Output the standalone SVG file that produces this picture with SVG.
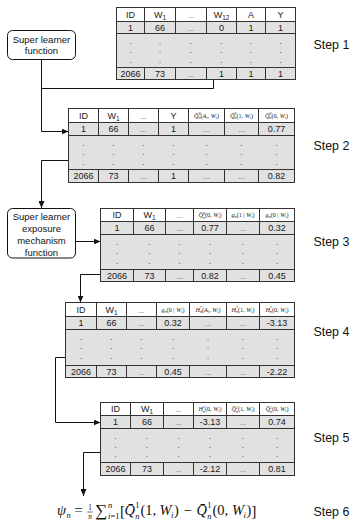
<svg xmlns="http://www.w3.org/2000/svg" width="351" height="520" viewBox="0 0 351 520">
<defs>
<marker id="ah" markerWidth="7" markerHeight="6" refX="7" refY="3" orient="auto" markerUnits="userSpaceOnUse"><path d="M0,0 L7,3 L0,6 z" fill="#111"/></marker>
<style>
.hd{fill:#fff;stroke:#333;stroke-width:1}
.gr{fill:#e1e1e1;stroke:#333;stroke-width:1}
.gl{fill:none;stroke:#333;stroke-width:1}
.t{font-family:"Liberation Sans",Arial,sans-serif;font-size:9px;text-anchor:middle;fill:#1a1a1a}
.e{font-family:"Liberation Sans",Arial,sans-serif;font-size:8px;text-anchor:middle;fill:#666}
.d{font-family:"Liberation Sans",Arial,sans-serif;font-size:9px;text-anchor:middle;fill:#555}
.m{font-family:"Liberation Serif","Times New Roman",serif;font-size:6.2px;font-style:italic;text-anchor:middle;fill:#1a1a1a}
.s{font-size:4.2px}
.u{font-style:normal}
.sb{font-size:6.5px}
.box{fill:#fff;stroke:#111;stroke-width:1}
.bt{font-family:"Liberation Sans",Arial,sans-serif;font-size:9.5px;text-anchor:middle;fill:#111}
.step{font-family:"Liberation Sans",Arial,sans-serif;font-size:12.4px;fill:#111}
.c{fill:none;stroke:#111;stroke-width:1}
.f{font-family:"Liberation Serif","Times New Roman",serif;font-size:14.5px;fill:#111}
.fi{font-style:italic}
.fs{font-size:8.5px}
.fr{font-size:7.2px;text-anchor:middle}
</style>
</defs>

<g id="connectors">
<path class="c" d="M41.5,59.5V131.5H68.5" marker-end="url(#ah)"/>
<path class="c" d="M213.5,79.5V88.5H41.5"/>
<path class="c" d="M68.5,160.5H41.5V208" marker-end="url(#ah)"/>
<path class="c" d="M76,241.5H100.5" marker-end="url(#ah)"/>
<path class="c" d="M100.5,274.5H80.5V302.5" marker-end="url(#ah)"/>
<path class="c" d="M65.5,357.5H55.5V422.5H100.5" marker-end="url(#ah)"/>
<path class="c" d="M100.5,452.5H83.5V496" marker-end="url(#ah)"/>
</g>

<g id="sl1">
<rect class="box" x="7.5" y="30.5" width="68" height="29" rx="5"/>
<text class="bt" x="41.5" y="42.5">Super learner</text>
<text class="bt" x="41.5" y="54">function</text>
</g>

<g id="sl2">
<rect class="box" x="7.5" y="208.5" width="68" height="49.5" rx="5"/>
<text class="bt" x="41.5" y="220.4">Super learner</text>
<text class="bt" x="41.5" y="232.2">exposure</text>
<text class="bt" x="41.5" y="244">mechanism</text>
<text class="bt" x="41.5" y="255.5">function</text>
</g>

<g id="table1">
<rect class="hd" x="116.5" y="7.5" width="179" height="14"/>
<rect class="gr" x="116.5" y="21.5" width="179" height="12"/>
<rect class="gr" x="116.5" y="33.5" width="179" height="34"/>
<rect class="gr" x="116.5" y="67.5" width="179" height="12"/>
<path class="gl" d="M144.5,7.5V33.5M175.5,7.5V33.5M206.5,7.5V33.5M236.5,7.5V33.5M265.5,7.5V33.5M144.5,67.5V79.5M175.5,67.5V79.5M206.5,67.5V79.5M236.5,67.5V79.5M265.5,67.5V79.5"/>
<text class="t" x="130.5" y="17.7">ID</text>
<text class="t" x="160" y="17.7">W<tspan class="sb" dy="1.8">1</tspan></text>
<text class="e" x="191" y="17.7">...</text>
<text class="t" x="221.5" y="17.7">W<tspan class="sb" dy="1.8">12</tspan></text>
<text class="t" x="251" y="17.7">A</text>
<text class="t" x="280.5" y="17.7">Y</text>
<text class="t" x="130.5" y="30.7">1</text>
<text class="t" x="160" y="30.7">66</text>
<text class="e" x="191" y="30.7">...</text>
<text class="t" x="221.5" y="30.7">0</text>
<text class="t" x="251" y="30.7">1</text>
<text class="t" x="280.5" y="30.7">1</text>
<text class="d" x="130.5 160 191 221.5 251 280.5" y="43.5">......</text>
<text class="d" x="130.5 160 191 221.5 251 280.5" y="52.5">......</text>
<text class="d" x="130.5 160 191 221.5 251 280.5" y="62.5">......</text>
<text class="t" x="130.5" y="76.7">2066</text>
<text class="t" x="160" y="76.7">73</text>
<text class="e" x="191" y="76.7">...</text>
<text class="t" x="221.5" y="76.7">1</text>
<text class="t" x="251" y="76.7">1</text>
<text class="t" x="280.5" y="76.7">1</text>
</g>

<g id="table2">
<rect class="hd" x="68.5" y="108.5" width="226" height="14"/>
<rect class="gr" x="68.5" y="122.5" width="226" height="13"/>
<rect class="gr" x="68.5" y="135.5" width="226" height="34"/>
<rect class="gr" x="68.5" y="169.5" width="226" height="13"/>
<path class="gl" d="M98.5,108.5V135.5M128.5,108.5V135.5M158.5,108.5V135.5M188.5,108.5V135.5M224.5,108.5V135.5M258.5,108.5V135.5M98.5,169.5V182.5M128.5,169.5V182.5M158.5,169.5V182.5M188.5,169.5V182.5M224.5,169.5V182.5M258.5,169.5V182.5"/>
<text class="t" x="83.5" y="118.7">ID</text>
<text class="t" x="113.5" y="118.7">W<tspan class="sb" dy="1.8">1</tspan></text>
<text class="e" x="143.5" y="118.7">...</text>
<text class="t" x="173.5" y="118.7">Y</text>
<text class="m" x="206.5" y="117.6">Q̄<tspan class="s" dy="-2.3">0</tspan><tspan class="s" dx="-2.1" dy="3.9">n</tspan><tspan class="u" dy="-1.6">(</tspan>A<tspan class="s" dy="1.3">i</tspan><tspan class="u" dy="-1.3">, </tspan>W<tspan class="s" dy="1.3">i</tspan><tspan class="u" dy="-1.3">)</tspan></text>
<text class="m" x="241.5" y="117.6">Q̄<tspan class="s" dy="-2.3">0</tspan><tspan class="s" dx="-2.1" dy="3.9">n</tspan><tspan class="u" dy="-1.6">(1, </tspan>W<tspan class="s" dy="1.3">i</tspan><tspan class="u" dy="-1.3">)</tspan></text>
<text class="m" x="276.5" y="117.6">Q̄<tspan class="s" dy="-2.3">0</tspan><tspan class="s" dx="-2.1" dy="3.9">n</tspan><tspan class="u" dy="-1.6">(0, </tspan>W<tspan class="s" dy="1.3">i</tspan><tspan class="u" dy="-1.3">)</tspan></text>
<text class="t" x="83.5" y="132.2">1</text>
<text class="t" x="113.5" y="132.2">66</text>
<text class="e" x="143.5" y="132.2">...</text>
<text class="t" x="173.5" y="132.2">1</text>
<text class="e" x="206.5" y="132.2">...</text>
<text class="e" x="241.5" y="132.2">...</text>
<text class="t" x="276.5" y="132.2">0.77</text>
<text class="d" x="83.5 113.5 143.5 173.5 206.5 241.5 276.5" y="145.5">.......</text>
<text class="d" x="83.5 113.5 143.5 173.5 206.5 241.5 276.5" y="154.5">.......</text>
<text class="d" x="83.5 113.5 143.5 173.5 206.5 241.5 276.5" y="164.5">.......</text>
<text class="t" x="83.5" y="179.2">2066</text>
<text class="t" x="113.5" y="179.2">73</text>
<text class="e" x="143.5" y="179.2">...</text>
<text class="t" x="173.5" y="179.2">1</text>
<text class="e" x="206.5" y="179.2">...</text>
<text class="e" x="241.5" y="179.2">...</text>
<text class="t" x="276.5" y="179.2">0.82</text>
</g>

<g id="table3">
<rect class="hd" x="100.5" y="208.5" width="194" height="13"/>
<rect class="gr" x="100.5" y="221.5" width="194" height="13"/>
<rect class="gr" x="100.5" y="234.5" width="194" height="35"/>
<rect class="gr" x="100.5" y="269.5" width="194" height="12"/>
<path class="gl" d="M133.5,208.5V234.5M165.5,208.5V234.5M193.5,208.5V234.5M226.5,208.5V234.5M259.5,208.5V234.5M133.5,269.5V281.5M165.5,269.5V281.5M193.5,269.5V281.5M226.5,269.5V281.5M259.5,269.5V281.5"/>
<text class="t" x="117" y="218.2">ID</text>
<text class="t" x="149.5" y="218.2">W<tspan class="sb" dy="1.8">1</tspan></text>
<text class="e" x="179.5" y="218.2">...</text>
<text class="m" x="210" y="217.1">Q̄<tspan class="s" dy="-2.3">0</tspan><tspan class="s" dx="-2.1" dy="3.9">n</tspan><tspan class="u" dy="-1.6">(0, </tspan>W<tspan class="s" dy="1.3">i</tspan><tspan class="u" dy="-1.3">)</tspan></text>
<text class="m" x="243" y="217.1">g<tspan class="s" dy="1.3">n</tspan><tspan class="u" dy="-1.3">(1 | </tspan>W<tspan class="s" dy="1.3">i</tspan><tspan class="u" dy="-1.3">)</tspan></text>
<text class="m" x="277" y="217.1">g<tspan class="s" dy="1.3">n</tspan><tspan class="u" dy="-1.3">(0 | </tspan>W<tspan class="s" dy="1.3">i</tspan><tspan class="u" dy="-1.3">)</tspan></text>
<text class="t" x="117" y="231.2">1</text>
<text class="t" x="149.5" y="231.2">66</text>
<text class="e" x="179.5" y="231.2">...</text>
<text class="t" x="210" y="231.2">0.77</text>
<text class="e" x="243" y="231.2">...</text>
<text class="t" x="277" y="231.2">0.32</text>
<text class="d" x="117 149.5 179.5 210 243 277" y="244.5">......</text>
<text class="d" x="117 149.5 179.5 210 243 277" y="253.5">......</text>
<text class="d" x="117 149.5 179.5 210 243 277" y="263.5">......</text>
<text class="t" x="117" y="278.7">2066</text>
<text class="t" x="149.5" y="278.7">73</text>
<text class="e" x="179.5" y="278.7">...</text>
<text class="t" x="210" y="278.7">0.82</text>
<text class="e" x="243" y="278.7">...</text>
<text class="t" x="277" y="278.7">0.45</text>
</g>

<g id="table4">
<rect class="hd" x="65.5" y="302.5" width="229" height="14"/>
<rect class="gr" x="65.5" y="316.5" width="229" height="13"/>
<rect class="gr" x="65.5" y="329.5" width="229" height="36"/>
<rect class="gr" x="65.5" y="365.5" width="229" height="12"/>
<path class="gl" d="M96.5,302.5V329.5M126.5,302.5V329.5M156.5,302.5V329.5M189.5,302.5V329.5M226.5,302.5V329.5M259.5,302.5V329.5M96.5,365.5V377.5M126.5,365.5V377.5M156.5,365.5V377.5M189.5,365.5V377.5M226.5,365.5V377.5M259.5,365.5V377.5"/>
<text class="t" x="81" y="312.7">ID</text>
<text class="t" x="111.5" y="312.7">W<tspan class="sb" dy="1.8">1</tspan></text>
<text class="e" x="141.5" y="312.7">...</text>
<text class="m" x="173" y="311.6">g<tspan class="s" dy="1.3">n</tspan><tspan class="u" dy="-1.3">(0 | </tspan>W<tspan class="s" dy="1.3">i</tspan><tspan class="u" dy="-1.3">)</tspan></text>
<text class="m" x="208" y="311.6">H<tspan class="s" dy="-2.3">*</tspan><tspan class="s" dx="-2.1" dy="3.9">n</tspan><tspan class="u" dy="-1.6">(</tspan>A<tspan class="s" dy="1.3">i</tspan><tspan class="u" dy="-1.3">, </tspan>W<tspan class="s" dy="1.3">i</tspan><tspan class="u" dy="-1.3">)</tspan></text>
<text class="m" x="243" y="311.6">H<tspan class="s" dy="-2.3">*</tspan><tspan class="s" dx="-2.1" dy="3.9">n</tspan><tspan class="u" dy="-1.6">(1, </tspan>W<tspan class="s" dy="1.3">i</tspan><tspan class="u" dy="-1.3">)</tspan></text>
<text class="m" x="277" y="311.6">H<tspan class="s" dy="-2.3">*</tspan><tspan class="s" dx="-2.1" dy="3.9">n</tspan><tspan class="u" dy="-1.6">(0, </tspan>W<tspan class="s" dy="1.3">i</tspan><tspan class="u" dy="-1.3">)</tspan></text>
<text class="t" x="81" y="326.2">1</text>
<text class="t" x="111.5" y="326.2">66</text>
<text class="e" x="141.5" y="326.2">...</text>
<text class="t" x="173" y="326.2">0.32</text>
<text class="e" x="208" y="326.2">...</text>
<text class="e" x="243" y="326.2">...</text>
<text class="t" x="277" y="326.2">-3.13</text>
<text class="d" x="81 111.5 141.5 173 208 243 277" y="339.5">.......</text>
<text class="d" x="81 111.5 141.5 173 208 243 277" y="348.5">.......</text>
<text class="d" x="81 111.5 141.5 173 208 243 277" y="358.5">.......</text>
<text class="t" x="81" y="374.7">2066</text>
<text class="t" x="111.5" y="374.7">73</text>
<text class="e" x="141.5" y="374.7">...</text>
<text class="t" x="173" y="374.7">0.45</text>
<text class="e" x="208" y="374.7">...</text>
<text class="e" x="243" y="374.7">...</text>
<text class="t" x="277" y="374.7">-2.22</text>
</g>

<g id="table5">
<rect class="hd" x="100.5" y="402.5" width="194" height="13"/>
<rect class="gr" x="100.5" y="415.5" width="194" height="13"/>
<rect class="gr" x="100.5" y="428.5" width="194" height="34"/>
<rect class="gr" x="100.5" y="462.5" width="194" height="13"/>
<path class="gl" d="M130.5,402.5V428.5M163.5,402.5V428.5M193.5,402.5V428.5M226.5,402.5V428.5M259.5,402.5V428.5M130.5,462.5V475.5M163.5,462.5V475.5M193.5,462.5V475.5M226.5,462.5V475.5M259.5,462.5V475.5"/>
<text class="t" x="115.5" y="412.2">ID</text>
<text class="t" x="147" y="412.2">W<tspan class="sb" dy="1.8">1</tspan></text>
<text class="e" x="178.5" y="412.2">...</text>
<text class="m" x="210" y="411.1">H<tspan class="s" dy="-2.3">*</tspan><tspan class="s" dx="-2.1" dy="3.9">n</tspan><tspan class="u" dy="-1.6">(0, </tspan>W<tspan class="s" dy="1.3">i</tspan><tspan class="u" dy="-1.3">)</tspan></text>
<text class="m" x="243" y="411.1">Q̄<tspan class="s" dy="-2.3">1</tspan><tspan class="s" dx="-2.1" dy="3.9">n</tspan><tspan class="u" dy="-1.6">(1, </tspan>W<tspan class="s" dy="1.3">i</tspan><tspan class="u" dy="-1.3">)</tspan></text>
<text class="m" x="277" y="411.1">Q̄<tspan class="s" dy="-2.3">1</tspan><tspan class="s" dx="-2.1" dy="3.9">n</tspan><tspan class="u" dy="-1.6">(0, </tspan>W<tspan class="s" dy="1.3">i</tspan><tspan class="u" dy="-1.3">)</tspan></text>
<text class="t" x="115.5" y="425.2">1</text>
<text class="t" x="147" y="425.2">66</text>
<text class="e" x="178.5" y="425.2">...</text>
<text class="t" x="210" y="425.2">-3.13</text>
<text class="e" x="243" y="425.2">...</text>
<text class="t" x="277" y="425.2">0.74</text>
<text class="d" x="115.5 147 178.5 210 243 277" y="438.5">......</text>
<text class="d" x="115.5 147 178.5 210 243 277" y="447.5">......</text>
<text class="d" x="115.5 147 178.5 210 243 277" y="456.5">......</text>
<text class="t" x="115.5" y="472.2">2066</text>
<text class="t" x="147" y="472.2">73</text>
<text class="e" x="178.5" y="472.2">...</text>
<text class="t" x="210" y="472.2">-2.12</text>
<text class="e" x="243" y="472.2">...</text>
<text class="t" x="277" y="472.2">0.81</text>
</g>

<g id="formula">
<text class="f">
<tspan class="fi" x="57" y="515">ψ</tspan>
<tspan class="fi fs" x="66.5" y="517.8">n</tspan>
<tspan x="74.5" y="515">=</tspan>
<tspan x="108" y="507.5" class="fi fs">n</tspan>
<tspan x="95" y="515.5" font-size="17">∑</tspan>
<tspan class="fs" x="108" y="518.6"><tspan class="fi">i</tspan>=1</tspan>
<tspan x="120" y="515.5" font-size="15.5">[</tspan>
<tspan class="fi" x="124.5" y="515">Q̄</tspan>
<tspan class="fs" x="135.3" y="508">1</tspan>
<tspan class="fi fs" x="135.3" y="518.6">n</tspan>
<tspan x="140.5" y="515">(1,</tspan>
<tspan class="fi" x="159.5" y="515">W</tspan>
<tspan class="fi fs" x="171" y="517.8">i</tspan>
<tspan x="174" y="515">)</tspan>
<tspan x="183.5" y="515">−</tspan>
<tspan class="fi" x="196.5" y="515">Q̄</tspan>
<tspan class="fs" x="207.3" y="508">1</tspan>
<tspan class="fi fs" x="207.3" y="518.6">n</tspan>
<tspan x="212.5" y="515">(0,</tspan>
<tspan class="fi" x="232" y="515">W</tspan>
<tspan class="fi fs" x="243.5" y="517.8">i</tspan>
<tspan x="246.5" y="515">)</tspan>
<tspan x="251.2" y="515.5" font-size="15.5">]</tspan>
</text>
<text class="f fr" x="90" y="510">1</text>
<text class="f fr fi" x="90" y="519">n</text>
<line x1="87.3" y1="512" x2="92.7" y2="512" stroke="#111" stroke-width="0.6"/>
</g>

<g id="steps">
<text class="step" x="313.5" y="49.3">Step 1</text>
<text class="step" x="313.5" y="150">Step 2</text>
<text class="step" x="313.5" y="246">Step 3</text>
<text class="step" x="313.5" y="336">Step 4</text>
<text class="step" x="313.5" y="442">Step 5</text>
<text class="step" x="313.5" y="516">Step 6</text>
</g>
</svg>
